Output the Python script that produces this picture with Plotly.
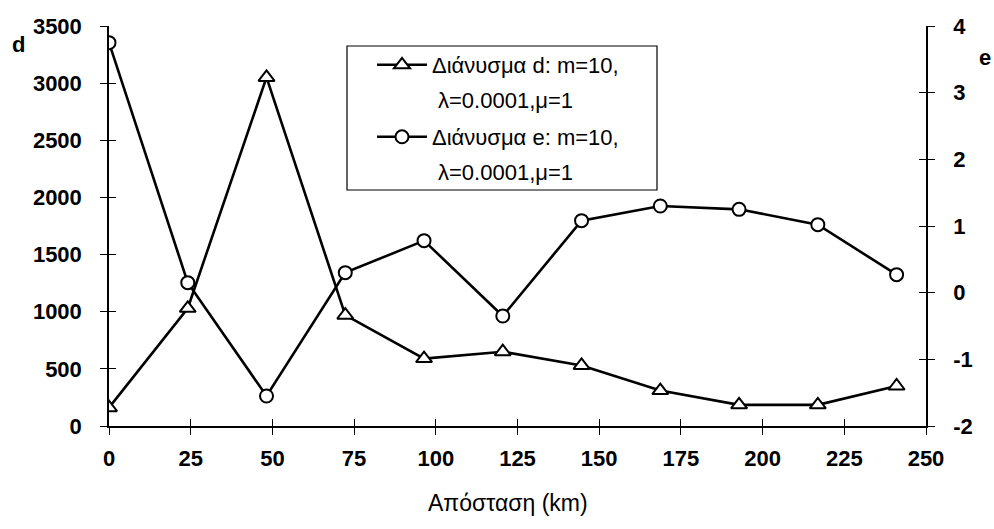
import plotly.graph_objects as go

distance_km = [0, 24.1, 48.2, 72.3, 96.4, 120.5, 144.6, 168.7, 192.8, 216.9, 241.0]
d_values = [160, 1030, 3050, 970, 590, 650, 530, 310, 185, 185, 350]
e_values = [3.75, 0.15, -1.55, 0.3, 0.78, -0.35, 1.08, 1.3, 1.25, 1.02, 0.27]
name_d = "Διάνυσμα d: m=10,"
name_e = "Διάνυσμα e: m=10,"
name_cont = "λ=0.0001,μ=1"
x_title = "Απόσταση (km)"
x_ticks = [0, 25, 50, 75, 100, 125, 150, 175, 200, 225, 250]
d_ticks = [0, 500, 1000, 1500, 2000, 2500, 3000, 3500]
e_ticks = [-2, -1, 0, 1, 2, 3, 4]
e_ticktext = ["-2", "-1", "0", "1", "2", "3", "4"]

FONT = "Liberation Sans, Arial, sans-serif"
W, H = 994, 529
L, R, T, B = 109, 68, 26, 103
PW, PH = W - L - R, H - T - B


def px(x):
    return (x - L) / PW


def py(y):
    return (H - B - y) / PH


fig = go.Figure()
fig.add_trace(go.Scatter(
    x=distance_km, y=d_values, name=name_d, mode="lines+markers",
    line=dict(color="black", width=2.6),
    marker=dict(symbol="triangle-up", size=14, color="white",
                line=dict(color="black", width=2)),
    yaxis="y", legend="legend"))
fig.add_trace(go.Scatter(
    x=distance_km, y=e_values, name=name_e, mode="lines+markers",
    line=dict(color="black", width=2.6),
    marker=dict(symbol="circle", size=13, color="white",
                line=dict(color="black", width=2)),
    yaxis="y2", legend="legend2"))

tickfont = dict(family=FONT, size=22, color="black", weight="bold")
common = dict(showgrid=False, zeroline=False, showline=True, linecolor="black",
              linewidth=1.5, ticks="outside", ticklen=7, tickwidth=1.2,
              tickcolor="black", tickfont=tickfont)
inner = dict(showgrid=False, zeroline=False, showline=False, ticks="inside",
             ticklen=7, tickwidth=1.2, tickcolor="black", showticklabels=False)

legfont = dict(family=FONT, size=22, color="black")
leg_common = dict(xanchor="left", yanchor="middle", bgcolor="rgba(0,0,0,0)",
                  borderwidth=0, font=legfont, itemwidth=50)

fig.update_layout(
    width=W, height=H,
    margin=dict(l=L, r=R, t=T, b=B),
    paper_bgcolor="white", plot_bgcolor="white",
    showlegend=True,
    xaxis=dict(range=[0, 250], tickvals=x_ticks, ticklabelstandoff=5, **common),
    yaxis=dict(range=[0, 3500], tickvals=d_ticks, side="left", ticklabelstandoff=14,
               **common),
    yaxis2=dict(range=[-2, 4], tickvals=e_ticks, ticktext=e_ticktext, side="right",
                overlaying="y", ticklabelstandoff=14, **common),
    xaxis2=dict(range=[0, 250], tickvals=x_ticks, overlaying="x", side="bottom", **inner),
    yaxis3=dict(range=[0, 3500], tickvals=d_ticks, overlaying="y", side="left", **inner),
    yaxis4=dict(range=[-2, 4], tickvals=e_ticks, overlaying="y", side="right", **inner),
    legend=dict(x=px(372), y=py(65), **leg_common),
    legend2=dict(x=px(372), y=py(137), **leg_common),
    shapes=[dict(type="rect", xref="paper", yref="paper",
                 x0=px(347), x1=px(657), y0=py(190), y1=py(46),
                 line=dict(color="black", width=1.2), fillcolor="rgba(0,0,0,0)")],
    annotations=[
        dict(text=x_title, xref="paper", yref="paper", x=px(508), y=py(503),
             xanchor="center", yanchor="middle", showarrow=False,
             font=dict(family=FONT, size=23, color="black")),
        dict(text=name_cont, xref="paper", yref="paper", x=px(436), y=py(100),
             xanchor="left", yanchor="middle", showarrow=False, font=legfont),
        dict(text=name_cont, xref="paper", yref="paper", x=px(436), y=py(172),
             xanchor="left", yanchor="middle", showarrow=False, font=legfont),
        dict(text="d", xref="paper", yref="paper", x=px(18), y=py(45), xanchor="center",
             yanchor="middle", showarrow=False,
             font=dict(family=FONT, size=22, color="black", weight="bold")),
        dict(text="e", xref="paper", yref="paper", x=px(985), y=py(58), xanchor="center",
             yanchor="middle", showarrow=False,
             font=dict(family=FONT, size=22, color="black", weight="bold")),
    ],
)
fig.add_trace(go.Scatter(x=[None], y=[None], xaxis="x2", yaxis="y3", showlegend=False,
                         hoverinfo="skip"))
fig.add_trace(go.Scatter(x=[None], y=[None], xaxis="x2", yaxis="y4", showlegend=False,
                         hoverinfo="skip"))

fig.write_html("out.html")
